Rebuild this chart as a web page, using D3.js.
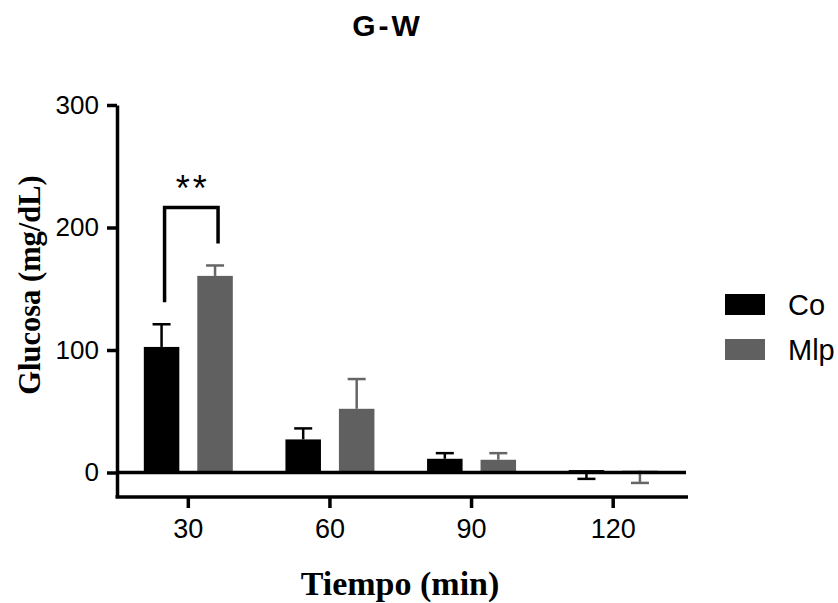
<!DOCTYPE html>
<html>
<head>
<meta charset="utf-8">
<script src="https://cdn.jsdelivr.net/npm/d3@7"></script>
<style>
  html, body { margin: 0; padding: 0; background: #fff; }
  svg { display: block; }
</style>
</head>
<body>
<svg id="chart" width="838" height="603"></svg>
<script>
// Glucose time course, mean with error bar per group
const times = ["30", "60", "90", "120"];
const groups = ["Co", "Mlp"];
const coValues = [102.5, 27, 11.2, 2];
const mlpValues = [160.5, 52, 10.4, 1.5];
// signed extent of each error bar (negative = drawn downward)
const coErr = [18.5, 9, 4.6, -7.2];
const mlpErr = [8.5, 24.3, 5.4, -10];
const yTicks = [0, 100, 200, 300];
const significance = [{ time: "30", label: "**" }];

const colors = { Co: "#000000", Mlp: "#606060" };
const errColors = { Co: "#000000", Mlp: "#666666" };
const sans = "'Liberation Sans', Arial, sans-serif";
const serif = "'Liberation Serif', 'Times New Roman', serif";

const svg = d3.select("#chart");

const y = d3.scaleLinear().domain([-20, 300]).range([497, 105]);
const x0 = d3.scaleBand().domain(times).range([117.5, 684]).padding(0);
const x1 = d3.scaleBand().domain(groups).range([-44.5, 44.5]).paddingInner(0.336);

const rows = times.map((t, i) => ({
  time: t,
  items: [
    { group: "Co", value: coValues[i], err: coErr[i] },
    { group: "Mlp", value: mlpValues[i], err: mlpErr[i] }
  ]
}));

const cx = (t, g) => x0(t) + x0.bandwidth() / 2 + x1(g) + x1.bandwidth() / 2;

// bars
const groupSel = svg.append("g").selectAll("g").data(rows).join("g");
groupSel.selectAll("rect").data(d => d.items.map(it => ({ ...it, time: d.time })))
  .join("rect")
  .attr("x", d => x0(d.time) + x0.bandwidth() / 2 + x1(d.group))
  .attr("width", x1.bandwidth())
  .attr("y", d => y(Math.max(0, d.value)))
  .attr("height", d => Math.abs(y(d.value) - y(0)))
  .attr("fill", d => colors[d.group]);

// error bars
const capHalf = 9;
const errG = svg.append("g");
rows.forEach(r => r.items.forEach(it => {
  const c = cx(r.time, it.group);
  const yEnd = y(it.value + it.err);
  errG.append("line")
    .attr("x1", c).attr("x2", c)
    .attr("y1", y(it.value)).attr("y2", yEnd)
    .attr("stroke", errColors[it.group]).attr("stroke-width", 2.5);
  errG.append("line")
    .attr("x1", c - capHalf).attr("x2", c + capHalf)
    .attr("y1", yEnd).attr("y2", yEnd)
    .attr("stroke", errColors[it.group]).attr("stroke-width", 2.5);
}));

// zero baseline
svg.append("line")
  .attr("x1", 117).attr("x2", 686)
  .attr("y1", y(0)).attr("y2", y(0))
  .attr("stroke", "#000").attr("stroke-width", 3.5);

// y axis
const yAxis = d3.axisLeft(y).tickValues(yTicks).tickSize(10).tickPadding(8).tickSizeOuter(0);
const yg = svg.append("g").attr("transform", "translate(117,0)").call(yAxis);
yg.select(".domain").attr("stroke", "#000").attr("stroke-width", 3.5);
yg.selectAll(".tick line").attr("stroke", "#000").attr("stroke-width", 3.5);
yg.selectAll(".tick text").attr("font-family", sans).attr("font-size", 26).attr("fill", "#000");

// x axis
const xAxis = d3.axisBottom(x0).tickSize(11).tickPadding(11).tickSizeOuter(0);
const xg = svg.append("g").attr("transform", `translate(0,${y(-20)})`).call(xAxis);
xg.select(".domain").remove();
xg.append("line").attr("x1", 115.5).attr("x2", 688).attr("y1", 0).attr("y2", 0)
  .attr("stroke", "#000").attr("stroke-width", 3.5);
xg.selectAll(".tick line").attr("stroke", "#000").attr("stroke-width", 3.5);
xg.selectAll(".tick text").attr("font-family", sans).attr("font-size", 27).attr("fill", "#000");

// significance bracket
const gap = 22;
significance.forEach(s => {
  const i = times.indexOf(s.time);
  const xl = cx(s.time, "Co") + 3;
  const xr = cx(s.time, "Mlp") + 3;
  const yl = y(coValues[i] + coErr[i]) - gap;
  const yr = y(mlpValues[i] + mlpErr[i]) - gap;
  const yt = Math.min(yl, yr) - 36;
  svg.append("path")
    .attr("d", `M${xl},${yl}V${yt}H${xr}V${yr}`)
    .attr("fill", "none").attr("stroke", "#000").attr("stroke-width", 3.5);
  svg.append("text")
    .attr("x", (xl + xr) / 2 + 1.5).attr("y", yt - 6)
    .attr("text-anchor", "middle")
    .attr("font-family", sans).attr("font-size", 36)
    .attr("letter-spacing", 3)
    .text(s.label);
});

// titles
svg.append("text")
  .attr("x", 387.5).attr("y", 36)
  .attr("text-anchor", "middle")
  .attr("font-family", sans).attr("font-size", 30).attr("font-weight", "bold")
  .attr("letter-spacing", 3)
  .text("G-W");

svg.append("text")
  .attr("x", 400).attr("y", 595)
  .attr("text-anchor", "middle")
  .attr("font-family", serif).attr("font-size", 34).attr("font-weight", "bold")
  .text("Tiempo (min)");

svg.append("text")
  .attr("transform", "translate(40,285) rotate(-90)")
  .attr("text-anchor", "middle")
  .attr("font-family", serif).attr("font-size", 30.5).attr("font-weight", "bold")
  .text("Glucosa (mg/dL)");

// legend
const legend = svg.append("g").attr("transform", "translate(725,294)");
groups.forEach((g, i) => {
  const row = legend.append("g").attr("transform", `translate(0,${i * 45})`);
  row.append("rect").attr("width", 40).attr("height", 21).attr("fill", colors[g]);
  row.append("text")
    .attr("x", 63).attr("y", 10.5).attr("dy", "0.36em")
    .attr("font-family", sans).attr("font-size", 29).attr("fill", "#000")
    .text(g);
});
</script>
</body>
</html>
